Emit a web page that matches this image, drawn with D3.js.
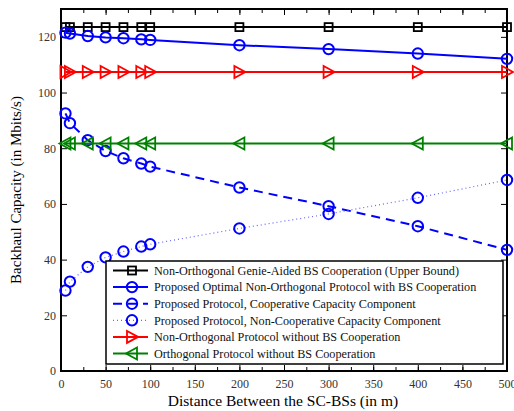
<!DOCTYPE html>
<html>
<head>
<meta charset="utf-8">
<script src="https://cdn.jsdelivr.net/npm/d3@7"></script>
<style>
  body { margin: 0; background: #fff; }
  svg { display: block; }
  text { font-family: "Liberation Serif", "DejaVu Serif", serif; }
</style>
</head>
<body>
<div id="chart"></div>
<script>
// distances between SC-BSs (m)
var distances = [5, 10, 30, 50, 70, 90, 100, 200, 300, 400, 500];

var upperBound = [123.5, 123.5, 123.5, 123.5, 123.5, 123.5, 123.5, 123.5, 123.5, 123.5, 123.5];
var proposedOptimal = [121.5, 121.2, 120.3, 119.8, 119.5, 119.1, 118.9, 117.0, 115.6, 114.0, 112.1];
var coopComponent = [92.5, 89.0, 82.9, 79.0, 76.4, 74.5, 73.4, 65.9, 59.2, 52.0, 43.5];
var nonCoopComponent = [28.9, 32.1, 37.4, 40.8, 42.9, 44.7, 45.5, 51.2, 56.4, 62.2, 68.6];
var nonOrthNoCoop = [107.4, 107.4, 107.4, 107.4, 107.4, 107.4, 107.4, 107.4, 107.4, 107.4, 107.4];
var orthNoCoop = [81.7, 81.7, 81.7, 81.7, 81.7, 81.7, 81.7, 81.7, 81.7, 81.7, 81.7];

var xTicks = [0, 50, 100, 150, 200, 250, 300, 350, 400, 450, 500];
var yTicks = [0, 20, 40, 60, 80, 100, 120];

var series = [
  { name: 'Non-Orthogonal Genie-Aided BS Cooperation (Upper Bound)', values: upperBound, color: '#000', dash: null, marker: 'square', width: 2 },
  { name: 'Proposed Optimal Non-Orthogonal Protocol with BS Cooperation', values: proposedOptimal, color: '#0000ff', dash: null, marker: 'circle', width: 2 },
  { name: 'Proposed Protocol, Cooperative Capacity Component', values: coopComponent, color: '#0000ff', dash: '9,6', marker: 'circle', width: 2 },
  { name: 'Proposed Protocol, Non-Cooperative Capacity Component', values: nonCoopComponent, color: '#0000ff', dash: '1,3', marker: 'circle', width: 1.2, lineColor: '#6666ff' },
  { name: 'Non-Orthogonal Protocol without BS Cooperation', values: nonOrthNoCoop, color: '#ff0000', dash: null, marker: 'triRight', width: 2 },
  { name: 'Orthogonal Protocol without BS Cooperation', values: orthNoCoop, color: '#008000', dash: null, marker: 'triLeft', width: 2 }
];

var w = 514, h = 411;
var pl = 61, pr = 507, pt = 9, pb = 371;

var svg = d3.select('#chart').append('svg')
    .attr('width', w)
    .attr('height', h);

var x = d3.scaleLinear().domain([0, 500]).range([pl, pr]);
var y = d3.scaleLinear().domain([0, 130]).range([pb, pt]);

// axes (ticks pointing inward, box around plot)
var minorX = d3.range(0, 501, 25);

svg.append('g')
    .attr('transform', 'translate(0,' + pb + ')')
    .call(d3.axisBottom(x).tickValues(minorX).tickSize(-4).tickFormat(''))
    .call(function(g) { g.select('.domain').remove(); });
svg.append('g')
    .attr('transform', 'translate(0,' + pt + ')')
    .call(d3.axisTop(x).tickValues(minorX).tickSize(-4).tickFormat(''))
    .call(function(g) { g.select('.domain').remove(); });

var xAxis = svg.append('g')
    .attr('transform', 'translate(0,' + pb + ')')
    .call(d3.axisBottom(x).tickValues(xTicks).tickSize(-6).tickPadding(8));
xAxis.select('.domain').remove();

svg.append('g')
    .attr('transform', 'translate(0,' + pt + ')')
    .call(d3.axisTop(x).tickValues(xTicks).tickSize(-6).tickFormat(''))
    .call(function(g) { g.select('.domain').remove(); });

var yAxis = svg.append('g')
    .attr('transform', 'translate(' + pl + ',0)')
    .call(d3.axisLeft(y).tickValues(yTicks).tickSize(-6).tickPadding(5));
yAxis.select('.domain').remove();

svg.append('g')
    .attr('transform', 'translate(' + pr + ',0)')
    .call(d3.axisRight(y).tickValues(yTicks).tickSize(-6).tickFormat(''))
    .call(function(g) { g.select('.domain').remove(); });

svg.selectAll('.tick line').style('stroke', '#000').style('stroke-width', 1);
svg.selectAll('.tick text')
    .style('font-family', '"Liberation Serif", serif')
    .style('font-size', '12px')
    .style('fill', '#333');

svg.append('rect')
    .attr('x', pl).attr('y', pt)
    .attr('width', pr - pl).attr('height', pb - pt)
    .attr('fill', 'none')
    .attr('stroke', '#000')
    .attr('stroke-width', 2);

// markers
var drawMarker = function(g, type, color) {
  if (type === 'circle') {
    g.append('circle').attr('r', 5.2)
      .attr('fill', 'none').attr('stroke', color).attr('stroke-width', 2);
  } else if (type === 'square') {
    g.append('rect').attr('x', -4).attr('y', -4).attr('width', 8).attr('height', 8)
      .attr('fill', 'none').attr('stroke', color).attr('stroke-width', 1.8);
  } else if (type === 'triRight') {
    g.append('path').attr('d', 'M6,0 L-5,-6 L-5,6 Z')
      .attr('fill', 'none').attr('stroke', color).attr('stroke-width', 1.8);
  } else if (type === 'triLeft') {
    g.append('path').attr('d', 'M-6,0 L5,-6 L5,6 Z')
      .attr('fill', 'none').attr('stroke', color).attr('stroke-width', 1.8);
  }
};

var line = d3.line()
    .x(function(d) { return x(d[0]); })
    .y(function(d) { return y(d[1]); });

series.forEach(function(s) {
  var pts = distances.map(function(d, i) { return [d, s.values[i]]; });
  svg.append('path')
    .datum(pts)
    .attr('d', line)
    .attr('fill', 'none')
    .attr('stroke', s.lineColor || s.color)
    .attr('stroke-width', s.width)
    .attr('stroke-dasharray', s.dash);
  svg.selectAll(null)
    .data(pts)
    .enter()
    .append('g')
    .attr('transform', function(d) { return 'translate(' + x(d[0]) + ',' + y(d[1]) + ')'; })
    .each(function() { drawMarker(d3.select(this), s.marker, s.color); });
});

// legend
var lx = 106, ly = 261, lw = 397, lh = 103;
svg.append('rect')
    .attr('x', lx).attr('y', ly)
    .attr('width', lw).attr('height', lh)
    .attr('fill', '#fff')
    .attr('stroke', '#000')
    .attr('stroke-width', 1.5);

var rowH = 16.6;
series.forEach(function(s, i) {
  var cy = ly + 9.5 + i * rowH;
  svg.append('line')
    .attr('x1', lx + 7).attr('x2', lx + 42)
    .attr('y1', cy).attr('y2', cy)
    .attr('stroke', s.lineColor || s.color)
    .attr('stroke-width', s.width)
    .attr('stroke-dasharray', s.dash);
  var g = svg.append('g').attr('transform', 'translate(' + (lx + 26) + ',' + cy + ')');
  drawMarker(g, s.marker, s.color);
  svg.append('text')
    .attr('x', lx + 48).attr('y', cy)
    .attr('dy', '0.35em')
    .style('font-size', '12.2px')
    .style('fill', '#111')
    .text(s.name);
});

// axis titles
svg.append('text')
    .attr('x', 283)
    .attr('y', 406)
    .attr('text-anchor', 'middle')
    .style('font-size', '15.5px')
    .text('Distance Between the SC-BSs (in m)');

svg.append('text')
    .attr('transform', 'translate(21,' + ((pt + pb) / 2) + ') rotate(-90)')
    .attr('text-anchor', 'middle')
    .style('font-size', '15px')
    .text('Backhaul Capacity (in Mbits/s)');
</script>
</body>
</html>
